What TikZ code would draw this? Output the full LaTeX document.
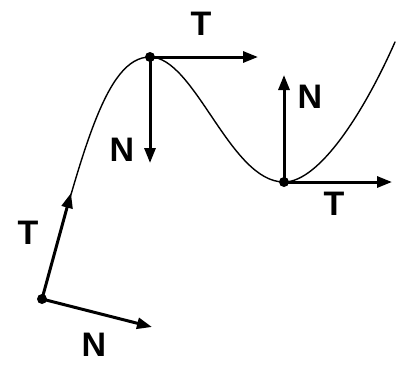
\documentclass[tikz,border=0pt]{standalone}
\usepackage{fontspec}
\setmainfont{Liberation Sans}
\usetikzlibrary{arrows.meta}
\tikzset{
  >={Triangle[length=15pt, width=11pt]},
  every picture/.style={line cap=round, line join=round},
  curveline/.style={line width=1.4pt},
  vec/.style={->, line width=3pt},
  dot/.style={circle, fill, inner sep=0pt, minimum size=10pt},
  lbl/.style={inner sep=0pt, font=\fontsize{34}{40}\selectfont\bfseries},
}
\begin{document}
\begin{tikzpicture}[x=1pt, y=-1pt]
  \useasboundingbox (0,0) rectangle (398,364);
  % points on the curve
  \coordinate (pa) at (42,299);
  \coordinate (pb) at (150,57);
  \coordinate (pc) at (284,182);
  \coordinate (pe) at (395,42);
  % the curve: steep rise, crest, trough, rise again
  \draw[curveline] (pa) .. controls (82,154) and (105,57) .. (pb)
    .. controls (195,57) and (230,182) .. (pc)
    .. controls (320,182) and (365,110) .. (pe);
  % tips of the vectors
  \coordinate (ta) at (71,193);
  \coordinate (na) at (152,327);
  \coordinate (tb) at (258,57);
  \coordinate (nb) at (150,163);
  \coordinate (tc) at (392,182);
  \coordinate (nc) at (284,75);
  \draw[vec] (pa) -- (ta);
  \draw[vec] (pa) -- (na);
  \draw[vec] (pb) -- (tb);
  \draw[vec] (pb) -- (nb);
  \draw[vec] (pc) -- (tc);
  \draw[vec] (pc) -- (nc);
  \node[dot] (da) at (pa) {};
  \node[dot] (db) at (pb) {};
  \node[dot] (dc) at (pc) {};
  % labels
  \node[lbl] (lta) at (28,233) {T};
  \node[lbl] (lna) at (94,345) {N};
  \node[lbl] (ltb) at (201,24) {T};
  \node[lbl] (lnb) at (122,150) {N};
  \node[lbl] (ltc) at (334,204) {T};
  \node[lbl] (lnc) at (310,97) {N};
\end{tikzpicture}
\end{document}
